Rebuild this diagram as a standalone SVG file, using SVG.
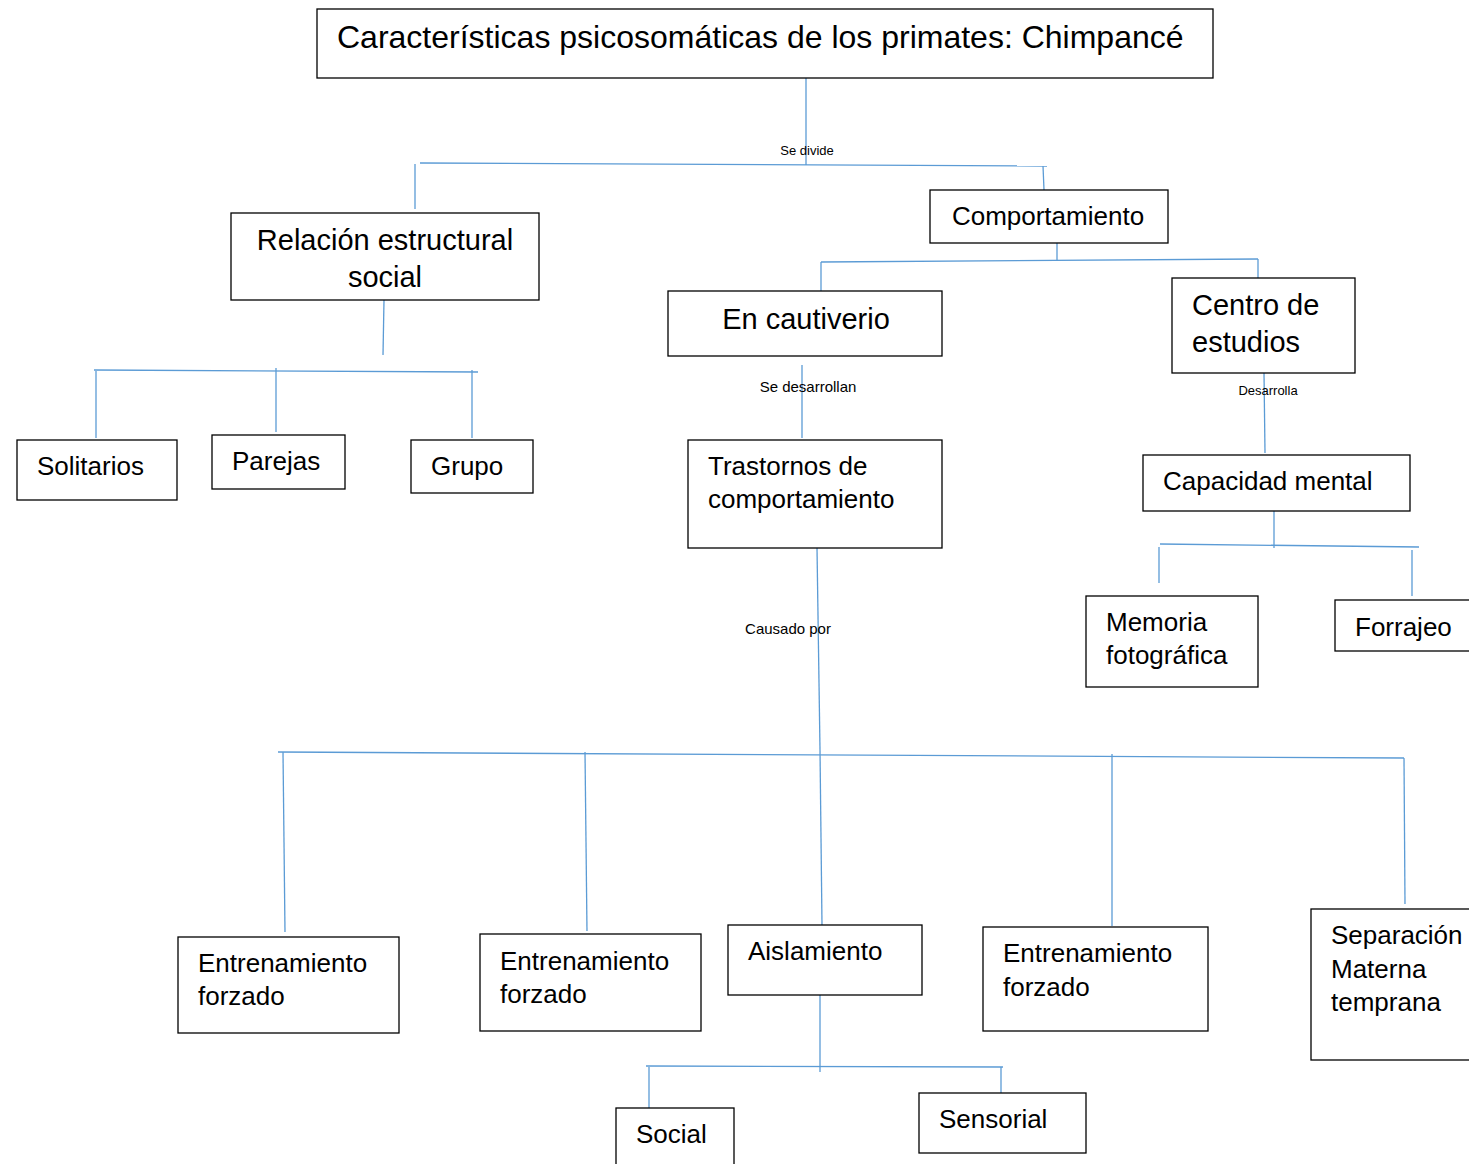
<svg xmlns="http://www.w3.org/2000/svg" width="1469" height="1164" viewBox="0 0 1469 1164">
<style>
.box{fill:#fff;stroke:#000;stroke-width:1.3}
.t{font-family:"Liberation Sans",Arial,sans-serif;fill:#000}
.l{stroke:#5B9BD5;stroke-width:1.3;fill:none}
.s{font-family:"Liberation Sans",Arial,sans-serif;fill:#000}
</style>
<rect width="1469" height="1164" fill="#fff"/>
<g id="connectors">
<path class="l" d="M806 70V165"/>
<path class="l" d="M420 163L1047 166"/>
<path class="l" d="M415 164V209"/>
<path class="l" d="M1043 166L1044 190"/>
<path class="l" d="M384 300L383 355"/>
<path class="l" d="M94 370L478 372"/>
<path class="l" d="M96 371V438"/>
<path class="l" d="M276 368V432"/>
<path class="l" d="M472 370V438"/>
<path class="l" d="M1057 243V261"/>
<path class="l" d="M821 262L1258 259"/>
<path class="l" d="M821 262V291"/>
<path class="l" d="M1258 259V278"/>
<path class="l" d="M802 365V438"/>
<path class="l" d="M1264 373L1265 453"/>
<path class="l" d="M817 548L820 750"/>
<path class="l" d="M1274 511V548"/>
<path class="l" d="M1160 544L1419 547"/>
<path class="l" d="M1159 547V583"/>
<path class="l" d="M1412 550V596"/>
<path class="l" d="M278 752L1404 758"/>
<path class="l" d="M283 752L285 932"/>
<path class="l" d="M585 752L587 931"/>
<path class="l" d="M820 750L822 925"/>
<path class="l" d="M1112 754V926"/>
<path class="l" d="M1404 758L1405 904"/>
<path class="l" d="M820 991V1072"/>
<path class="l" d="M646 1066L1003 1067"/>
<path class="l" d="M649 1067V1108"/>
<path class="l" d="M1001 1067V1093"/>
<text class="s" x="807" y="155" font-size="13" text-anchor="middle">Se divide</text>
<text class="s" x="808" y="392" font-size="15" text-anchor="middle">Se desarrollan</text>
<text class="s" x="1268" y="395" font-size="13" text-anchor="middle">Desarrolla</text>
<text class="s" x="788" y="634" font-size="15" text-anchor="middle">Causado por</text>
</g>
<g id="title"><rect class="box" x="317" y="9" width="896" height="69"/><text class="t" x="337" y="48" font-size="32">Características psicosomáticas de los primates: Chimpancé</text></g>
<g id="relacion"><rect class="box" x="231" y="213" width="308" height="87"/><text class="t" x="385" y="250" font-size="29" text-anchor="middle">Relación estructural</text><text class="t" x="385" y="287" font-size="29" text-anchor="middle">social</text></g>
<g id="solitarios"><rect class="box" x="17" y="440" width="160" height="60"/><text class="t" x="37" y="475" font-size="26">Solitarios</text></g>
<g id="parejas"><rect class="box" x="212" y="435" width="133" height="54"/><text class="t" x="232" y="470" font-size="26">Parejas</text></g>
<g id="grupo"><rect class="box" x="411" y="440" width="122" height="53"/><text class="t" x="431" y="475" font-size="26">Grupo</text></g>
<g id="comportamiento"><rect class="box" x="930" y="190" width="238" height="53"/><text class="t" x="1048" y="225" font-size="26" text-anchor="middle">Comportamiento</text></g>
<g id="cautiverio"><rect class="box" x="668" y="291" width="274" height="65"/><text class="t" x="806" y="329" font-size="29" text-anchor="middle">En cautiverio</text></g>
<g id="centro"><rect class="box" x="1172" y="278" width="183" height="95"/><text class="t" x="1192" y="315" font-size="29">Centro de</text><text class="t" x="1192" y="352" font-size="29">estudios</text></g>
<g id="trastornos"><rect class="box" x="688" y="440" width="254" height="108"/><text class="t" x="708" y="475" font-size="26">Trastornos de</text><text class="t" x="708" y="508" font-size="26">comportamiento</text></g>
<g id="capacidad"><rect class="box" x="1143" y="455" width="267" height="56"/><text class="t" x="1163" y="490" font-size="26">Capacidad mental</text></g>
<g id="memoria"><rect class="box" x="1086" y="596" width="172" height="91"/><text class="t" x="1106" y="631" font-size="26">Memoria</text><text class="t" x="1106" y="664" font-size="26">fotográfica</text></g>
<g id="forrajeo"><rect class="box" x="1335" y="600" width="150" height="51"/><text class="t" x="1355" y="636" font-size="26">Forrajeo</text></g>
<g id="entrenamiento1"><rect class="box" x="178" y="937" width="221" height="96"/><text class="t" x="198" y="972" font-size="26">Entrenamiento</text><text class="t" x="198" y="1005" font-size="26">forzado</text></g>
<g id="entrenamiento2"><rect class="box" x="480" y="934" width="221" height="97"/><text class="t" x="500" y="970" font-size="26">Entrenamiento</text><text class="t" x="500" y="1003" font-size="26">forzado</text></g>
<g id="aislamiento"><rect class="box" x="728" y="925" width="194" height="70"/><text class="t" x="748" y="960" font-size="26">Aislamiento</text></g>
<g id="entrenamiento3"><rect class="box" x="983" y="927" width="225" height="104"/><text class="t" x="1003" y="962" font-size="26">Entrenamiento</text><text class="t" x="1003" y="996" font-size="26">forzado</text></g>
<g id="separacion"><rect class="box" x="1311" y="909" width="180" height="151"/><text class="t" x="1331" y="944" font-size="26">Separación</text><text class="t" x="1331" y="978" font-size="26">Materna</text><text class="t" x="1331" y="1011" font-size="26">temprana</text></g>
<g id="social"><rect class="box" x="616" y="1108" width="118" height="80"/><text class="t" x="636" y="1143" font-size="26">Social</text></g>
<g id="sensorial"><rect class="box" x="919" y="1093" width="167" height="60"/><text class="t" x="939" y="1128" font-size="26">Sensorial</text></g>
</svg>
